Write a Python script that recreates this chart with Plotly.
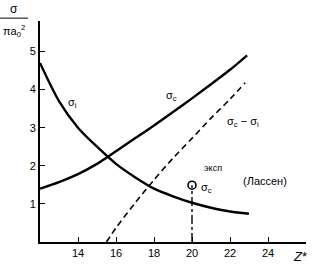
import plotly.graph_objects as go

# sigma_i curve
z_i = [12, 13, 14, 15, 16, 17, 18, 19, 20, 21, 22, 23]
sig_i = [4.7, 3.7, 3.0, 2.5, 2.05, 1.7, 1.4, 1.2, 1.03, 0.9, 0.8, 0.74]
# sigma_c curve
z_c = [12, 13, 14, 15, 16, 17, 18, 19, 20, 21, 22, 22.9]
sig_c = [1.4, 1.57, 1.78, 2.05, 2.38, 2.72, 3.06, 3.41, 3.77, 4.14, 4.52, 4.9]
# sigma_c - sigma_i (dashed)
z_d = [15.5, 16, 17, 18, 19, 20, 21, 22, 22.8]
sig_d = [0.0, 0.37, 1.02, 1.63, 2.2, 2.72, 3.25, 3.75, 4.18]
# experimental point (Lassen)
z_exp = [20]
sig_exp = [1.49]

x_ticks = [14, 16, 18, 20, 22, 24]
y_ticks = [1, 2, 3, 4, 5]

FONT = "Liberation Sans"
fig = go.Figure()
fig.add_trace(go.Scatter(x=z_i, y=sig_i, mode="lines", line=dict(color="black", width=2.4, shape="spline", smoothing=0.8), hoverinfo="skip"))
fig.add_trace(go.Scatter(x=z_c, y=sig_c, mode="lines", line=dict(color="black", width=2.4, shape="spline", smoothing=0.8), hoverinfo="skip"))
fig.add_trace(go.Scatter(x=z_d, y=sig_d, mode="lines", line=dict(color="black", width=1.6, dash="6px,4px", shape="spline", smoothing=0.8), hoverinfo="skip"))
fig.add_trace(go.Scatter(x=[z_exp[0], z_exp[0]], y=[0, sig_exp[0]], mode="lines", line=dict(color="black", width=1.4, dash="dashdot"), hoverinfo="skip"))
fig.add_trace(go.Scatter(x=z_exp, y=sig_exp, mode="markers", marker=dict(symbol="circle-open", size=8, color="black", line=dict(width=1.6)), hoverinfo="skip"))

ann = [
    dict(x=13.7, y=3.65, text="σ<sub>i</sub>"),
    dict(x=18.9, y=3.82, text="σ<sub>c</sub>"),
    dict(x=22.7, y=3.15, text="σ<sub>c</sub> − σ<sub>i</sub>"),
    dict(x=20.75, y=1.42, text="σ<sub>c</sub>"),
    dict(x=21.1, y=1.95, text="эксп", size=9),
    dict(x=23.85, y=1.6, text="(Лассен)"),
]
for a in ann:
    fig.add_annotation(x=a["x"], y=a["y"], xref="x", yref="y", text=a["text"], showarrow=False,
                       xanchor="center", yanchor="middle",
                       font=dict(family=FONT, size=a.get("size", 11), color="black"))

fig.add_annotation(x=0.977, y=-0.066, xref="paper", yref="paper", text="<i>Z</i>*", showarrow=False,
                   xanchor="center", yanchor="middle",
                   font=dict(family=FONT, size=13, color="black"))
# y-axis title as a fraction at top-left
fig.add_annotation(x=-0.098, y=1.055, xref="paper", yref="paper", text="σ", showarrow=False,
                   xanchor="center", yanchor="middle",
                   font=dict(family=FONT, size=12, color="black"))
fig.add_annotation(x=-0.098, y=0.955, xref="paper", yref="paper", text="πa<sub>0</sub><sup>2</sup>", showarrow=False,
                   xanchor="center", yanchor="middle",
                   font=dict(family=FONT, size=11, color="black"))
fig.add_shape(type="line", xref="paper", yref="paper", x0=-0.15, x1=-0.045, y0=1.013, y1=1.013,
              line=dict(color="black", width=1))

fig.update_layout(
    width=313, height=266,
    margin=dict(l=40, r=7, t=21, b=19),
    paper_bgcolor="white", plot_bgcolor="white",
    showlegend=False,
    xaxis=dict(range=[12, 26], tickvals=x_ticks, ticktext=[str(v) for v in x_ticks],
               ticks="inside", ticklen=5, tickcolor="black", showgrid=False, zeroline=False,
               showline=True, linecolor="black", linewidth=2,
               tickfont=dict(family=FONT, size=11, color="black")),
    yaxis=dict(range=[0, 5.8], tickvals=y_ticks, ticktext=[str(v) for v in y_ticks],
               ticks="inside", ticklen=5, tickcolor="black", showgrid=False, zeroline=False,
               showline=True, linecolor="black", linewidth=2,
               tickfont=dict(family=FONT, size=11, color="black")),
)
fig.write_html("out.html")
